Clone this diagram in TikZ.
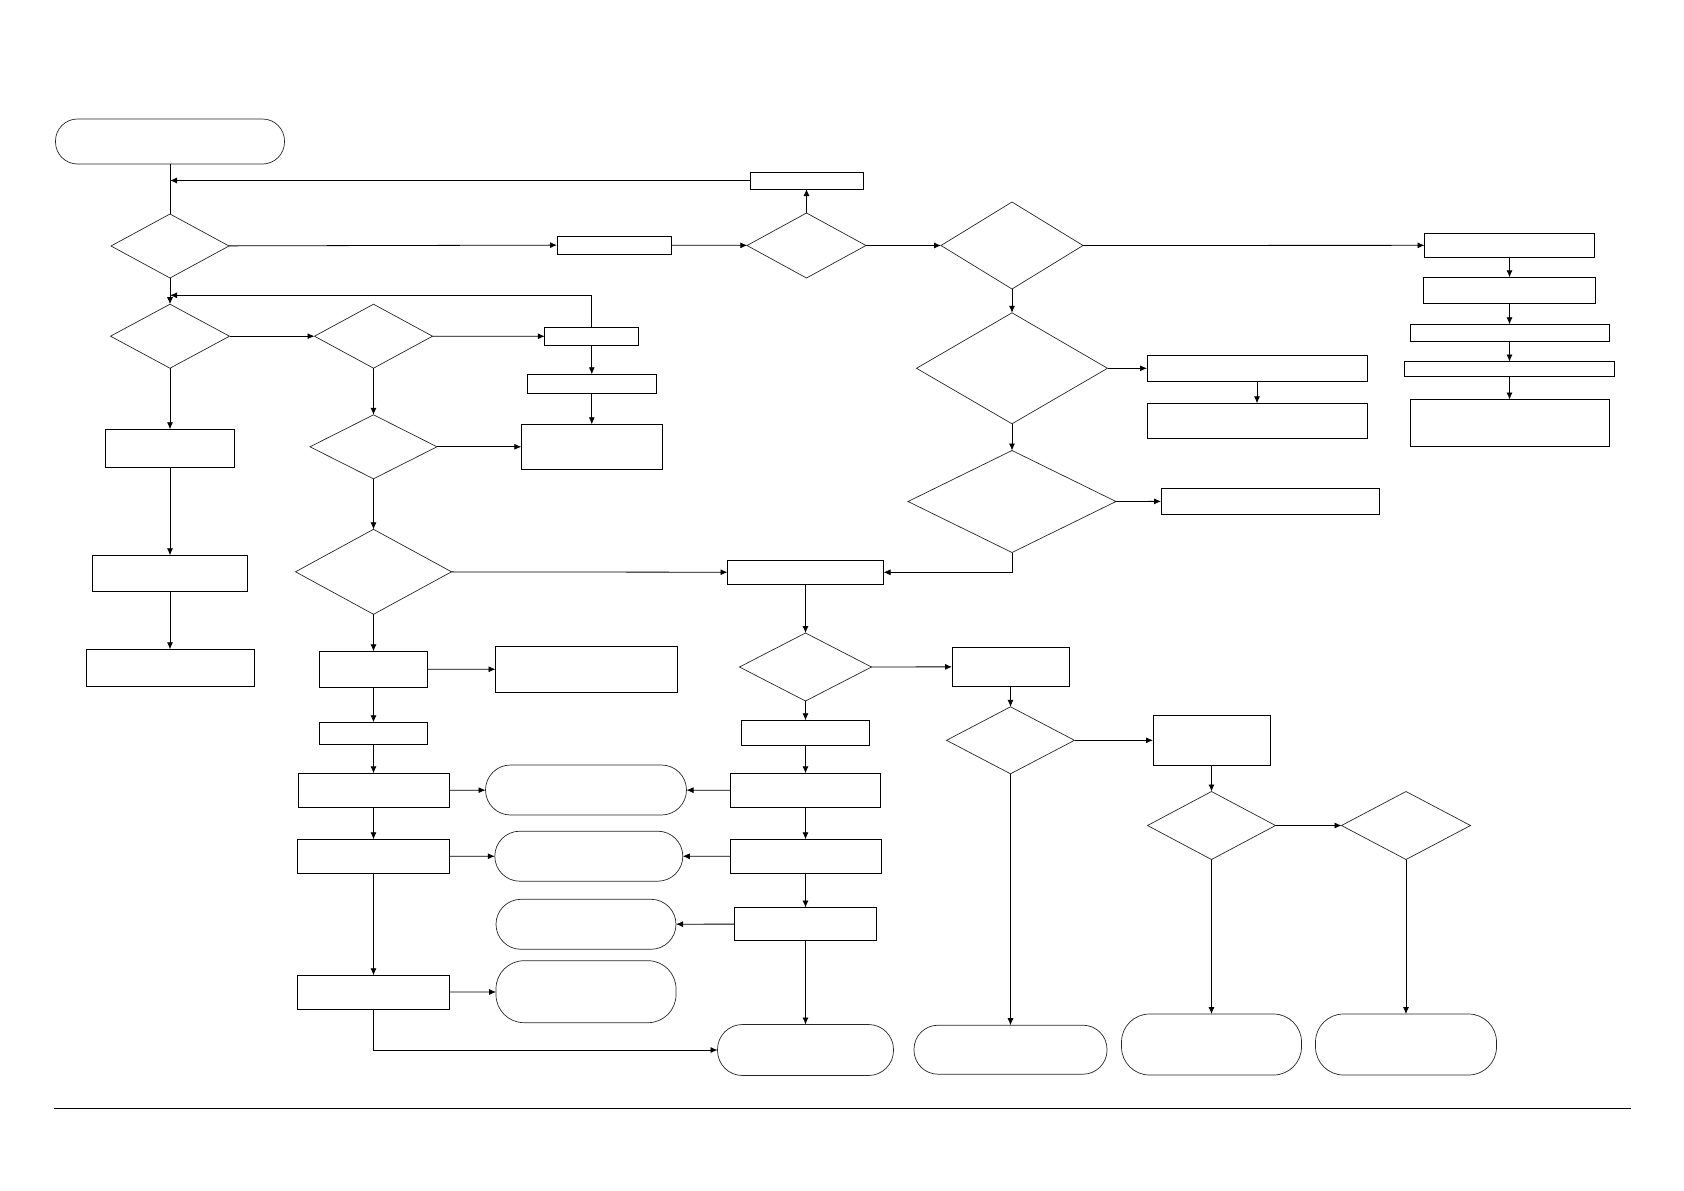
\documentclass[tikz,border=0pt]{standalone}
\usepackage{tikz}
\usetikzlibrary{arrows.meta,shapes.geometric}

\begin{document}
\begin{tikzpicture}[
    x=1pt, y=-1pt,
    every node/.style={inner sep=0pt, outer sep=0pt},
    procbox/.style 2 args={rectangle, draw=black, line width=0.95pt, minimum width=#1pt, minimum height=#2pt},
    decision/.style 2 args={diamond, draw=black!85, line width=0.7pt, minimum width=#1pt, minimum height=#2pt},
    termbox/.style n args={3}{rectangle, rounded corners=#3pt, draw=black!85, line width=0.7pt, minimum width=#1pt, minimum height=#2pt},
    arr/.style={-{Latex[length=7pt, width=6pt]}, line width=0.8pt, draw=black},
    link/.style={line width=0.8pt, draw=black}
]
\useasboundingbox (0,0) rectangle (1684,1191);

\node[termbox={229}{45}{22}] (start) at (170,141.5) {};
\node[procbox={113}{17}] (retry) at (806.5,180.5) {};
\node[decision={118}{64}] (qpower) at (170,246) {};
\node[procbox={114}{18}] (check) at (614,245) {};
\node[decision={119}{65}] (qcheck) at (806.5,245.5) {};
\node[decision={142}{87}] (qmode) at (1012,245.5) {};

\node[procbox={170}{24}] (setA) at (1509.5,245.3) {};
\node[procbox={172}{26}] (setB) at (1509.5,290.3) {};
\node[procbox={199}{17}] (setC) at (1509.5,332.8) {};
\node[procbox={210}{15}] (setD) at (1509.5,369) {};
\node[procbox={199}{47}] (setE) at (1509.5,423) {};

\node[decision={191}{111}] (qlevel) at (1012,368.3) {};
\node[procbox={220}{26}] (adjA) at (1257,368.3) {};
\node[procbox={220}{35}] (adjB) at (1257,420.8) {};
\node[decision={208}{102}] (qlimit) at (1012,501.5) {};
\node[procbox={218}{26}] (warn) at (1270,501.3) {};

\node[decision={119}{64}] (qinput) at (170,336.2) {};
\node[decision={118}{64}] (qsignal) at (373.5,336.2) {};
\node[procbox={94}{18}] (reset) at (591.8,336.3) {};
\node[procbox={129}{19}] (wait) at (591.8,383.8) {};
\node[procbox={141}{45}] (report) at (591.8,446.8) {};
\node[decision={127}{64}] (qvalid) at (373.5,446.8) {};

\node[procbox={129}{38}] (idleA) at (170,448.3) {};
\node[procbox={155}{36}] (idleB) at (170,573.3) {};
\node[procbox={168}{37}] (idleC) at (170,667.8) {};

\node[decision={156}{85}] (qready) at (373.5,571.8) {};
\node[procbox={156}{24}] (merge) at (805.5,572.3) {};
\node[procbox={108}{36}] (load) at (373.5,669.3) {};
\node[procbox={182}{46}] (log) at (586.5,669.2) {};
\node[procbox={108}{22}] (prep) at (373.5,733.3) {};

\node[decision={132}{68}] (qrun) at (805.5,667) {};
\node[procbox={117}{39}] (fault) at (1010.5,666.8) {};
\node[procbox={128}{25}] (start2) at (805.5,732.8) {};
\node[decision={128}{67}] (qfault) at (1010.5,740.3) {};
\node[procbox={117}{50}] (repair) at (1211.5,740.3) {};
\node[decision={128}{68}] (qfixed) at (1211.5,825.5) {};
\node[decision={129}{68}] (qretry) at (1406,825.5) {};

\node[procbox={151}{34}] (stepA) at (373.5,790.3) {};
\node[procbox={152}{34}] (stepB) at (373.5,856.3) {};
\node[procbox={152}{34}] (stepC) at (373.5,992.3) {};
\node[termbox={201}{50}{25}] (outA) at (586,790) {};
\node[termbox={188}{50}{25}] (outB) at (588.8,856.2) {};
\node[termbox={180}{50}{25}] (outC) at (586,924.3) {};
\node[termbox={180}{62}{28}] (outD) at (586,991.7) {};
\node[procbox={150}{34}] (runA) at (805.5,790.3) {};
\node[procbox={151}{34}] (runB) at (805.5,856.3) {};
\node[procbox={142}{33}] (runC) at (805.5,924) {};

\node[termbox={176}{51}{25}] (endA) at (805.5,1050) {};
\node[termbox={193}{49}{24}] (endB) at (1010.5,1049.7) {};
\node[termbox={180}{61}{28}] (endC) at (1211.5,1044.5) {};
\node[termbox={181}{61}{28}] (endD) at (1406,1044.5) {};

\coordinate (loopin) at (170,295.3);

\draw[link] (start) -- (qpower);
\draw[arr] (retry.west) -- (start.south |- retry.west);
\draw[arr] (qpower) -- (check);
\draw[arr] (check) -- (qcheck);
\draw[arr] (qcheck) -- (retry);
\draw[arr] (qcheck) -- (qmode);
\draw[arr] (qmode) -- (setA);
\draw[arr] (setA) -- (setB);
\draw[arr] (setB) -- (setC);
\draw[arr] (setC) -- (setD);
\draw[arr] (setD) -- (setE);
\draw[arr] (qmode) -- (qlevel);
\draw[arr] (qlevel) -- (adjA);
\draw[arr] (adjA) -- (adjB);
\draw[arr] (qlevel) -- (qlimit);
\draw[arr] (qlimit) -- (warn);
\draw[arr] (qlimit.south) |- (merge.east);

\draw[arr] (qpower) -- (qinput);
\draw[arr] (qinput) -- (qsignal);
\draw[arr] (qsignal) -- (reset);
\draw[arr] (reset.north) |- (loopin);
\draw[arr] (reset) -- (wait);
\draw[arr] (wait) -- (report);
\draw[arr] (qsignal) -- (qvalid);
\draw[arr] (qvalid) -- (report);
\draw[arr] (qvalid) -- (qready);
\draw[arr] (qinput) -- (idleA);
\draw[arr] (idleA) -- (idleB);
\draw[arr] (idleB) -- (idleC);

\draw[arr] (qready) -- (merge);
\draw[arr] (qready) -- (load);
\draw[arr] (load) -- (log);
\draw[arr] (load) -- (prep);
\draw[arr] (prep) -- (stepA);
\draw[arr] (stepA) -- (outA);
\draw[arr] (stepA) -- (stepB);
\draw[arr] (stepB) -- (outB);
\draw[arr] (stepB) -- (stepC);
\draw[arr] (stepC) -- (outD);
\draw[arr] (stepC.south) |- (endA.west);

\draw[arr] (merge) -- (qrun);
\draw[arr] (qrun) -- (fault);
\draw[arr] (qrun) -- (start2);
\draw[arr] (start2) -- (runA);
\draw[arr] (runA) -- (outA);
\draw[arr] (runA) -- (runB);
\draw[arr] (runB) -- (outB);
\draw[arr] (runB) -- (runC);
\draw[arr] (runC) -- (outC);
\draw[arr] (runC) -- (endA);

\draw[arr] (fault) -- (qfault);
\draw[arr] (qfault) -- (repair);
\draw[arr] (qfault) -- (endB);
\draw[arr] (repair) -- (qfixed);
\draw[arr] (qfixed) -- (qretry);
\draw[arr] (qfixed) -- (endC);
\draw[arr] (qretry) -- (endD);

\draw[line width=1.2pt] (53.7,1108.3) -- (1630.5,1108.3);

\end{tikzpicture}
\end{document}
